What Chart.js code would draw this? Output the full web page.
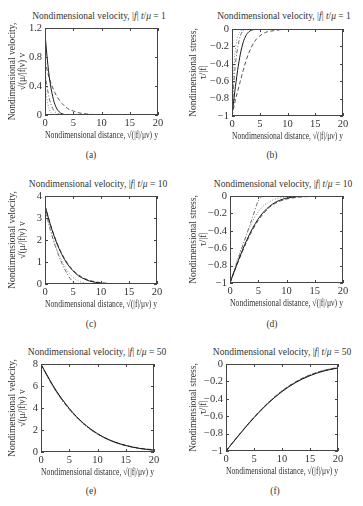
<!DOCTYPE html>
<html>
<head>
<meta charset="utf-8">
<script src="https://cdn.jsdelivr.net/npm/chart.js@4.4.1/dist/chart.umd.min.js"></script>
<style>
  body { margin: 0; background: #fff; }
  #wrap { position: relative; width: 363px; height: 506px; overflow: hidden; }
  canvas { position: absolute; }
  .lbl { position: absolute; transform: translate(-50%, -50%); white-space: nowrap;
         font-family: "Liberation Serif", "DejaVu Serif", serif; font-size: 9.5px; color: #333; }
</style>
</head>
<body>
<div id="wrap">
  <div class="lbl" style="left:99px;top:16px">Nondimensional velocity, |<i>f</i>| <i>t</i>/<i>μ</i> = 1</div>
  <div class="lbl" style="left:284px;top:16px">Nondimensional velocity, |<i>f</i>| <i>t</i>/<i>μ</i> = 1</div>
  <div class="lbl" style="left:98px;top:184px">Nondimensional velocity, |<i>f</i>| <i>t</i>/<i>μ</i> = 10</div>
  <div class="lbl" style="left:283px;top:184px">Nondimensional velocity, |<i>f</i>| <i>t</i>/<i>μ</i> = 10</div>
  <div class="lbl" style="left:97px;top:352px">Nondimensional velocity, |<i>f</i>| <i>t</i>/<i>μ</i> = 50</div>
  <div class="lbl" style="left:282px;top:352px">Nondimensional velocity, |<i>f</i>| <i>t</i>/<i>μ</i> = 50</div>
  <div class="lbl" style="left:91px;top:155px">(a)</div>
  <div class="lbl" style="left:272px;top:155px">(b)</div>
  <div class="lbl" style="left:91px;top:324px">(c)</div>
  <div class="lbl" style="left:272px;top:324px">(d)</div>
  <div class="lbl" style="left:91px;top:491px">(e)</div>
  <div class="lbl" style="left:275px;top:491px">(f)</div>
</div>
<script>
// distance values
const xA = [0, 0.25, 0.5, 0.75, 1, 1.5, 2, 2.5, 3, 4, 5, 6, 8, 10, 12, 15, 20];
const xC = [0, 1, 2, 3, 4, 5, 6, 7, 8, 10, 12, 15, 20];
const xD = [0, 1, 2, 3, 4, 5, 6, 7, 8, 9, 10, 12, 14, 16, 20];
const xE = [0, 2.5, 5, 7.5, 10, 12.5, 15, 17.5, 20];

// (a) velocity, t = 1
const aSolid   = [1.13, 0.90, 0.70, 0.53, 0.40, 0.21, 0.10, 0.044, 0.017, 0.002, 0, 0, 0, 0, 0, 0, 0];
const aDashed  = [0.75, 0.66, 0.58, 0.51, 0.45, 0.35, 0.27, 0.21, 0.16, 0.09, 0.055, 0.03, 0.01, 0.003, 0, 0, 0];
const aDotted  = [0.45, 0.28, 0.16, 0.08, 0.04, 0.01, 0, 0, 0, 0, 0, 0, 0, 0, 0, 0, 0];
const aDashDot = [0.6, 0.45, 0.33, 0.23, 0.16, 0.07, 0.03, 0.01, 0, 0, 0, 0, 0, 0, 0, 0, 0];

// (b) stress, t = 1
const bSolid   = [-1, -0.86, -0.72, -0.60, -0.48, -0.29, -0.157, -0.077, -0.034, -0.005, 0, 0, 0, 0, 0, 0, 0];
const bDashed  = [-1, -0.92, -0.85, -0.78, -0.72, -0.6, -0.48, -0.37, -0.28, -0.15, -0.08, -0.04, -0.015, 0, 0, 0, 0];
const bDotted  = [-1, -0.55, -0.3, -0.17, -0.09, -0.03, -0.01, 0, 0, 0, 0, 0, 0, 0, 0, 0, 0];
const bDashDot = [-1, -0.7, -0.48, -0.33, -0.22, -0.08, -0.02, 0, 0, 0, 0, 0, 0, 0, 0, 0, 0];

// (c) velocity, t = 10
const cSolid   = [3.57, 2.66, 1.92, 1.34, 0.91, 0.6, 0.37, 0.23, 0.13, 0.04, 0.009, 0.001, 0];
const cDashed  = [3.55, 2.68, 1.96, 1.38, 0.95, 0.63, 0.41, 0.26, 0.16, 0.06, 0.02, 0.005, 0];
const cDotted  = [3.45, 2.45, 1.65, 1.05, 0.6, 0.3, 0.13, 0.05, 0.02, 0, 0, 0, 0];
const cDashDot = [3.4, 2.42, 1.6, 0.95, 0.45, 0.1, 0, 0, 0, 0, 0, 0, 0];

// (d) stress, t = 10
const dSolid   = [-1, -0.823, -0.655, -0.502, -0.371, -0.263, -0.18, -0.118, -0.074, -0.044, -0.025, -0.007, -0.002, 0, 0];
const dDashed  = [-1, -0.83, -0.67, -0.52, -0.39, -0.28, -0.195, -0.13, -0.085, -0.055, -0.035, -0.015, -0.006, -0.002, 0];
const dDotted  = [-1, -0.79, -0.6, -0.43, -0.29, -0.18, -0.11, -0.065, -0.035, -0.02, -0.01, 0, 0, 0, 0];
const dDashDot = [-1, -0.81, -0.62, -0.43, -0.245, -0.057, 0, 0, 0, 0, 0, 0, 0, 0, 0];

// (e) velocity, t = 50
const eSolid   = [7.98, 5.73, 3.96, 2.62, 1.67, 1.01, 0.59, 0.32, 0.17];
const eDashed  = [7.95, 5.70, 3.92, 2.60, 1.66, 1.02, 0.61, 0.35, 0.2];
const eDotted  = [7.9, 5.6, 3.85, 2.52, 1.6, 0.97, 0.57, 0.31, 0.16];
const eDashDot = [7.92, 5.65, 3.9, 2.57, 1.63, 0.99, 0.58, 0.32, 0.17];

// (f) stress, t = 50
const fSolid   = [-1, -0.803, -0.617, -0.453, -0.317, -0.211, -0.134, -0.080, -0.046];
const fDashed  = [-1, -0.80, -0.612, -0.447, -0.31, -0.203, -0.126, -0.074, -0.04];
const fDotted  = [-1, -0.80, -0.61, -0.445, -0.305, -0.2, -0.123, -0.07, -0.038];
const fDashDot = [-1, -0.802, -0.615, -0.45, -0.312, -0.206, -0.13, -0.077, -0.043];

const xTitle = "Nondimensional distance, \u221A(|f|/\u03BC\u03BD) y";
const velTitle = ["Nondimensional velocity,", "\u221A(\u03BC/|f|\u03BD) v"];
const stressTitle = ["Nondimensional stress,", "\u03C4/|f|"];

const FONT = "'Liberation Serif', 'DejaVu Serif', serif";

const lineStyles = [
  { borderColor: "#1a1a1a", borderDash: [] },
  { borderColor: "#555", borderDash: [4, 2.5] },
  { borderColor: "#8a8a8a", borderDash: [1, 1.8] },
  { borderColor: "#6a6a6a", borderDash: [4, 2, 1, 2] }
];

// box around the plot with inward ticks, like the original figure
const boxPlugin = {
  id: "box",
  afterDraw(chart) {
    const { ctx, chartArea: a, scales } = chart;
    ctx.save();
    ctx.strokeStyle = "#444";
    ctx.lineWidth = 1;
    ctx.setLineDash([]);
    ctx.strokeRect(Math.round(a.left) + 0.5, Math.round(a.top) + 0.5,
                   Math.round(a.right - a.left) - 1, Math.round(a.bottom - a.top) - 1);
    const t = 3;
    ctx.beginPath();
    scales.x.ticks.forEach(tk => {
      const px = Math.round(scales.x.getPixelForValue(tk.value)) + 0.5;
      ctx.moveTo(px, a.bottom); ctx.lineTo(px, a.bottom - t);
      ctx.moveTo(px, a.top); ctx.lineTo(px, a.top + t);
    });
    scales.y.ticks.forEach(tk => {
      const py = Math.round(scales.y.getPixelForValue(tk.value)) + 0.5;
      ctx.moveTo(a.left, py); ctx.lineTo(a.left + t, py);
      ctx.moveTo(a.right, py); ctx.lineTo(a.right - t, py);
    });
    ctx.stroke();
    ctx.restore();
  }
};

function makePanel(colLeft, colWidth, L, T, R, B, yMin, yMax, yStep, yTitle, xs, series) {
  const top = T - 10;
  const canvas = document.createElement("canvas");
  canvas.width = colWidth;
  canvas.height = B + 26 - top;
  canvas.style.left = colLeft + "px";
  canvas.style.top = top + "px";
  document.getElementById("wrap").appendChild(canvas);

  const datasets = series.map((ys, i) => ({
    data: xs.map((x, j) => ({ x: x, y: ys[j] })),
    borderColor: lineStyles[i].borderColor,
    borderDash: lineStyles[i].borderDash,
    borderWidth: 1,
    pointRadius: 0,
    fill: false,
    cubicInterpolationMode: "monotone"
  }));

  new Chart(canvas.getContext("2d"), {
    type: "line",
    data: { datasets: datasets },
    options: {
      responsive: false,
      devicePixelRatio: 1,
      animation: false,
      events: [],
      layout: { padding: { top: 10, right: colLeft + colWidth - R, left: 0, bottom: 0 } },
      plugins: { legend: { display: false }, tooltip: { enabled: false } },
      scales: {
        x: {
          type: "linear", min: 0, max: 20,
          ticks: { stepSize: 5, padding: 2, color: "#333", font: { family: FONT, size: 10.5 } },
          grid: { display: false, drawTicks: false },
          border: { display: false },
          title: { display: true, text: xTitle, color: "#333", padding: { top: 0, bottom: 0 },
                   font: { family: FONT, size: 10 } },
          afterFit: s => { s.height = 26; }
        },
        y: {
          min: yMin, max: yMax,
          ticks: {
            stepSize: yStep, padding: 3, color: "#333", font: { family: FONT, size: 10.5 },
            callback: v => String(Number(v.toFixed(1))).replace("-", "\u2212")
          },
          grid: { display: false, drawTicks: false },
          border: { display: false },
          title: { display: true, text: yTitle, color: "#333", padding: { top: 8, bottom: 0 },
                   font: { family: FONT, size: 9.5, lineHeight: 1 } },
          afterFit: s => { s.width = L - colLeft; }
        }
      }
    },
    plugins: [boxPlugin]
  });
}

makePanel(0, 181, 45, 28, 158, 115, 0, 1.2, 0.2, velTitle, xA, [aSolid, aDashed, aDotted, aDashDot]);
makePanel(181, 182, 232, 29, 343, 116, -1, 0, 0.2, stressTitle, xA, [bSolid, bDashed, bDotted, bDashDot]);
makePanel(0, 181, 45, 196, 157, 284, 0, 4, 0.5, velTitle, xC, [cSolid, cDashed, cDotted, cDashDot]);
makePanel(181, 182, 230, 196, 343, 283, -1, 0, 0.2, stressTitle, xD, [dSolid, dDashed, dDotted, dDashDot]);
makePanel(0, 181, 41, 364, 154, 452, 0, 8, 1, velTitle, xE, [eSolid, eDashed, eDotted, eDashDot]);
makePanel(181, 182, 226, 364, 338, 451, -1, 0, 0.2, stressTitle, xE, [fSolid, fDashed, fDotted, fDashDot]);
</script>
</body>
</html>
